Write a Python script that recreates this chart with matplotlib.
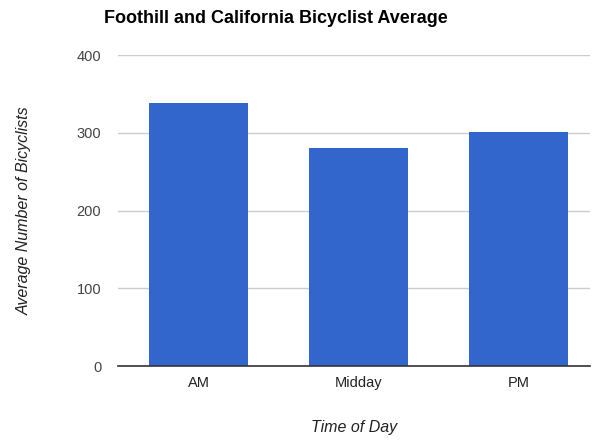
import matplotlib
matplotlib.use("Agg")
import matplotlib.pyplot as plt

# data
times = ["AM", "Midday", "PM"]
avg_bicyclists = [338, 281, 301]
y_ticks = [0, 100, 200, 300, 400]

plt.rcParams['font.family'] = ['Liberation Sans', 'DejaVu Sans']

fig = plt.figure(figsize=(5.93, 4.41), dpi=100)
ax = fig.add_axes([0.199, 0.170, 0.796, 0.705])

ax.bar(range(len(times)), avg_bicyclists, width=0.62, color='#3366cc', zorder=3)

ax.set_xlim(-0.503, 2.445)
ax.set_ylim(0, 400)
ax.set_yticks(y_ticks)
ax.set_xticks(range(len(times)))
ax.set_xticklabels(times)

ax.grid(axis='y', color='#cccccc', linewidth=1, zorder=0)
for side in ['top', 'right', 'left']:
    ax.spines[side].set_visible(False)
ax.spines['bottom'].set_color('#333333')
ax.spines['bottom'].set_linewidth(1.2)
ax.spines['bottom'].set_zorder(4)

ax.tick_params(axis='y', length=0, pad=12, labelsize=10.5, labelcolor='#444444')
ax.tick_params(axis='x', length=0, pad=7, labelsize=10.5, labelcolor='#222222')

ax.set_ylabel('Average Number of Bicyclists', fontsize=11.5, style='italic', color='#222222', labelpad=32)
ax.set_xlabel('Time of Day', fontsize=11.5, style='italic', color='#222222', labelpad=22)

fig.text(0.466, 0.958, 'Foothill and California Bicyclist Average', ha='center', va='center',
         fontsize=13, fontweight='bold', color='black')

fig.savefig('out.png', dpi=100)
